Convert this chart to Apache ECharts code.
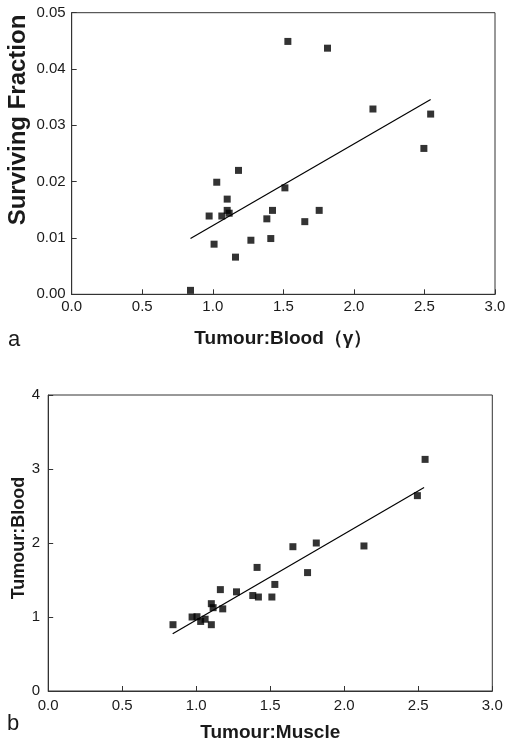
<!DOCTYPE html>
<html>
<head>
<meta charset="utf-8">
<script src="https://cdn.jsdelivr.net/npm/echarts@6/dist/echarts.min.js"></script>
<style>
html,body{margin:0;padding:0;background:#fff;}
#c{width:512px;height:748px;}
</style>
</head>
<body>
<div id="c"></div>
<script>
// Panel a: Tumour:Blood (gamma) vs Surviving Fraction
var aX = [0.842,0.974,1.009,1.028,1.064,1.102,1.102,1.116,1.161,1.182,1.270,1.383,1.411,1.423,1.511,1.532,1.652,1.754,1.813,2.135,2.496,2.544];
var aY = [0.0007,0.0139,0.0089,0.0199,0.0139,0.0169,0.0149,0.0144,0.0066,0.0220,0.0096,0.0134,0.0099,0.0149,0.0189,0.0449,0.0129,0.0149,0.0437,0.0329,0.0259,0.0320];
var aFitX = [0.842, 2.544];
var aFitY = [0.0099, 0.0346];

// Panel b: Tumour:Muscle vs Tumour:Blood
var bX = [0.843,0.972,1.005,1.030,1.060,1.102,1.102,1.114,1.179,1.163,1.272,1.382,1.420,1.411,1.511,1.531,1.653,1.752,1.811,2.133,2.494,2.546];
var bY = [0.896,1.00,1.004,0.94,0.97,0.896,1.18,1.126,1.11,1.37,1.34,1.29,1.27,1.67,1.27,1.44,1.95,1.60,2.00,1.96,2.64,3.13];
var bFitX = [0.841, 2.539];
var bFitY = [0.775, 2.75];

var xTicksLabel = ['0.0','0.5','1.0','1.5','2.0','2.5','3.0'];
var aYTicks = ['0.00','0.01','0.02','0.03','0.04','0.05'];
var bYTicks = ['0','1','2','3','4'];

function zip(xs, ys){ return xs.map(function(x,i){ return [x, ys[i]]; }); }

var FONT = '"Liberation Sans", Arial, sans-serif';
var TXT = '#1a1a1a';
var AX = '#333';

var chart = echarts.init(document.getElementById('c'), null, {renderer:'canvas'});

function xAxis(gi, name, gap, margin){
  return {
    type:'value', gridIndex:gi, min:0, max:3, interval:0.5,
    name:name, nameLocation:'middle', nameGap:gap,
    nameTextStyle:{fontFamily:FONT, fontWeight:'bold', fontSize:19, color:TXT},
    axisLine:{show:true, onZero:false, lineStyle:{color:AX, width:1}},
    axisTick:{show:true, inside:true, length:5, lineStyle:{color:AX}},
    axisLabel:{fontFamily:FONT, fontSize:15, color:TXT, margin:margin,
      formatter:function(v){ return xTicksLabel[Math.round(v/0.5)]; }},
    splitLine:{show:false}
  };
}
function yAxis(gi, max, interval, labels, margin){
  return {
    type:'value', gridIndex:gi, min:0, max:max, interval:interval,
    axisLine:{show:true, onZero:false, lineStyle:{color:AX, width:1}},
    axisTick:{show:true, inside:true, length:5, lineStyle:{color:AX}},
    axisLabel:{fontFamily:FONT, fontSize:15, color:TXT, margin:margin,
      formatter:function(v){ return labels[Math.round(v/interval)]; }},
    splitLine:{show:false}
  };
}

chart.setOption({
  animation:false,
  backgroundColor:'#fff',
  grid:[
    {left:71.7, top:12.7, width:423.3, height:281.6, show:true, borderColor:AX, borderWidth:1, backgroundColor:'transparent'},
    {left:48.2, top:395, width:444.1, height:296, show:true, borderColor:AX, borderWidth:1, backgroundColor:'transparent'}
  ],
  xAxis:[ xAxis(0,'Tumour:Blood（γ）',35,5), xAxis(1,'Tumour:Muscle',32,7) ],
  yAxis:[ yAxis(0,0.05,0.01,aYTicks,6), yAxis(1,4,1,bYTicks,8) ],
  graphic:[
    {type:'text', x:18, y:120, rotation:Math.PI/2,
      style:{text:'Surviving Fraction', fontFamily:FONT, fontWeight:'bold', fontSize:24, fill:TXT, align:'center', verticalAlign:'middle'}},
    {type:'text', x:19, y:538, rotation:Math.PI/2,
      style:{text:'Tumour:Blood', fontFamily:FONT, fontWeight:'bold', fontSize:18, fill:TXT, align:'center', verticalAlign:'middle'}},
    {type:'text', x:14, y:340,
      style:{text:'a', fontFamily:FONT, fontSize:22, fill:TXT, align:'center', verticalAlign:'middle'}},
    {type:'text', x:13, y:724,
      style:{text:'b', fontFamily:FONT, fontSize:22, fill:TXT, align:'center', verticalAlign:'middle'}}
  ],
  series:[
    {type:'scatter', xAxisIndex:0, yAxisIndex:0, symbol:'rect', symbolSize:7,
      itemStyle:{color:'#000'}, data:zip(aX,aY)},
    {type:'line', xAxisIndex:0, yAxisIndex:0, symbol:'none',
      lineStyle:{color:'#000', width:1.2}, data:zip(aFitX,aFitY)},
    {type:'scatter', xAxisIndex:1, yAxisIndex:1, symbol:'rect', symbolSize:7,
      itemStyle:{color:'#000'}, data:zip(bX,bY)},
    {type:'line', xAxisIndex:1, yAxisIndex:1, symbol:'none',
      lineStyle:{color:'#000', width:1.2}, data:zip(bFitX,bFitY)}
  ]
});
</script>
</body>
</html>
